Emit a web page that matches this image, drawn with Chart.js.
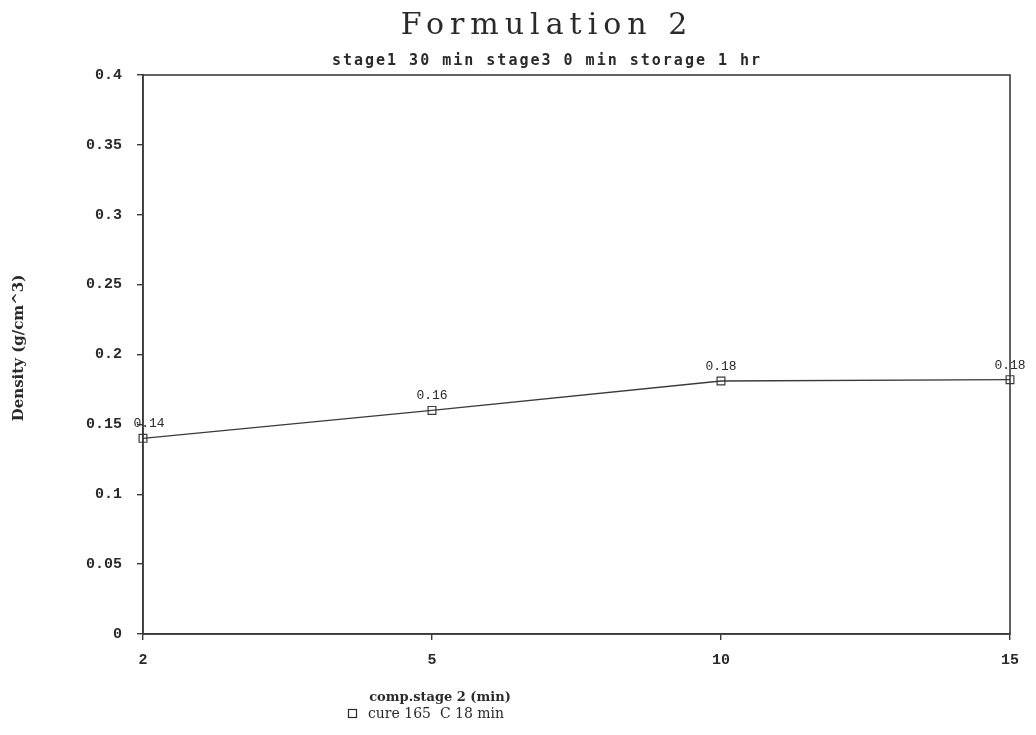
<!DOCTYPE html>
<html>
<head>
<meta charset="utf-8">
<script src="https://cdn.jsdelivr.net/npm/chart.js@4/dist/chart.umd.min.js"></script>
<style>
  html, body { margin: 0; padding: 0; background: #fff; }
  #wrap { width: 1036px; height: 735px; position: relative; }
</style>
</head>
<body>
<div id="wrap"><canvas id="c" width="1036" height="735"></canvas></div>
<script>
// Compression time in stage 2 (min)
const stageTimes = ['2', '5', '10', '15'];
// Foam density (g/cm^3), cure 165 C 18 min
const density = [0.14, 0.16, 0.181, 0.182];
// Density axis ticks
const yTicks = [0, 0.05, 0.1, 0.15, 0.2, 0.25, 0.3, 0.35, 0.4];

const chartTitle = 'Formulation 2';
const chartSubtitle = 'stage1 30 min stage3 0 min storage 1 hr';
const xTitle = 'comp.stage 2 (min)';
const yTitle = 'Density (g/cm^3)';
const seriesName = 'cure 165  C 18 min';

const ink = '#2a2a2a';

// Frame around the plotting area
const framePlugin = {
  id: 'frame',
  beforeDatasetsDraw(chart) {
    const { ctx, chartArea: a } = chart;
    ctx.save();
    ctx.strokeStyle = '#3a3a3a';
    ctx.lineWidth = 1.6;
    ctx.strokeRect(a.left, a.top, a.right - a.left, a.bottom - a.top);
    ctx.restore();
  }
};

// Value labels above each marker
const valueLabels = {
  id: 'valueLabels',
  afterDatasetsDraw(chart) {
    const { ctx } = chart;
    const meta = chart.getDatasetMeta(0);
    ctx.save();
    ctx.fillStyle = ink;
    ctx.font = '13px "Liberation Mono"';
    ctx.textAlign = 'center';
    ctx.textBaseline = 'alphabetic';
    meta.data.forEach((pt, i) => {
      const dx = i === 0 ? 6 : 0;
      ctx.fillText(density[i].toFixed(2), pt.x + dx, pt.y - 11);
    });
    ctx.restore();
  }
};

// Titles, axis titles and the series key
const textPlugin = {
  id: 'texts',
  afterDraw(chart) {
    const { ctx } = chart;
    ctx.save();
    ctx.fillStyle = ink;
    ctx.textAlign = 'center';
    ctx.textBaseline = 'middle';

    ctx.font = '30px "DejaVu Serif"';
    ctx.letterSpacing = '6px';
    ctx.fillText(chartTitle, 547, 26);

    ctx.font = 'bold 15px "DejaVu Sans Mono"';
    ctx.letterSpacing = '2px';
    ctx.fillText(chartSubtitle, 547, 61);

    ctx.letterSpacing = '0px';
    ctx.font = 'bold 13px "DejaVu Serif"';
    ctx.fillText(xTitle, 440, 698);

    ctx.textAlign = 'left';
    ctx.font = '14px "DejaVu Serif"';
    ctx.fillText(seriesName, 368, 714);
    ctx.strokeStyle = ink;
    ctx.lineWidth = 1.2;
    ctx.strokeRect(348.5, 709.5, 8, 8);

    ctx.translate(19, 348);
    ctx.rotate(-Math.PI / 2);
    ctx.textAlign = 'center';
    ctx.font = 'bold 15px "DejaVu Serif"';
    ctx.fillText(yTitle, 0, 0);
    ctx.restore();
  }
};

new Chart(document.getElementById('c'), {
  type: 'line',
  data: {
    labels: stageTimes,
    datasets: [{
      label: seriesName,
      data: density,
      borderColor: '#3a3a3a',
      borderWidth: 1.4,
      tension: 0,
      pointStyle: 'rect',
      pointRadius: 5.5,
      pointBorderWidth: 1.2,
      pointBorderColor: '#3a3a3a',
      pointBackgroundColor: 'rgba(0,0,0,0)',
      clip: false
    }]
  },
  options: {
    responsive: false,
    animation: false,
    layout: { padding: { left: 0, right: 26, top: 75, bottom: 0 } },
    plugins: {
      legend: { display: false },
      title: { display: false },
      tooltip: { enabled: false }
    },
    scales: {
      x: {
        type: 'category',
        offset: false,
        grid: { drawOnChartArea: false, drawTicks: true, tickLength: 6, color: '#3a3a3a', lineWidth: 1.4 },
        border: { display: true, color: '#3a3a3a', width: 1.6 },
        ticks: { color: ink, font: { family: 'Liberation Mono', size: 15, weight: 'bold' }, padding: 11, maxRotation: 0 },
        afterFit(scale) { scale.height = 101; }
      },
      y: {
        min: 0,
        max: 0.4,
        afterBuildTicks(scale) { scale.ticks = yTicks.map(v => ({ value: v })); },
        grid: { drawOnChartArea: false, drawTicks: true, tickLength: 6, color: '#3a3a3a', lineWidth: 1.4 },
        border: { display: true, color: '#3a3a3a', width: 1.6 },
        ticks: {
          color: ink,
          font: { family: 'Liberation Mono', size: 15, weight: 'bold' },
          padding: 15,
          callback: v => String(Number(Number(v).toFixed(2)))
        },
        afterFit(scale) { scale.width = 143; }
      }
    }
  },
  plugins: [framePlugin, valueLabels, textPlugin]
});
</script>
</body>
</html>
